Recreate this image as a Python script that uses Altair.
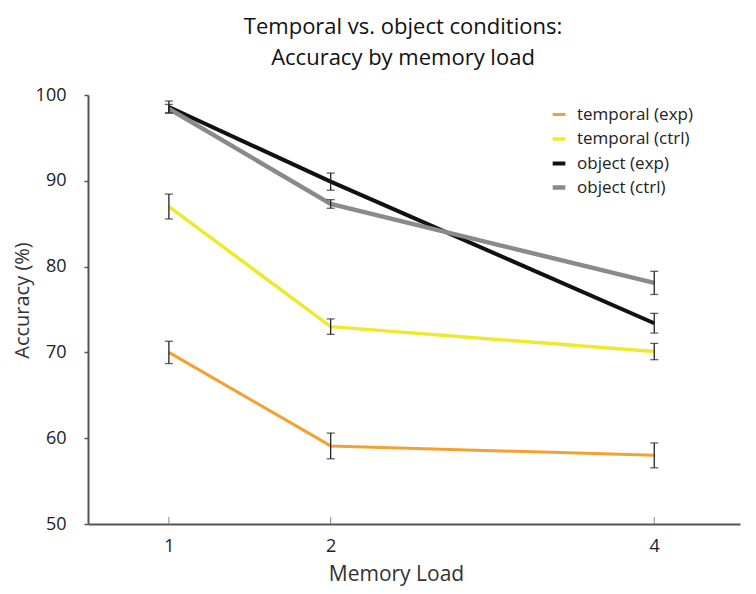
import altair as alt
import pandas as pd

loads = [1, 2, 4]
series_names = ["temporal (exp)", "temporal (ctrl)", "object (exp)", "object (ctrl)"]
temporal_exp = [70.0, 59.1, 58.0]
temporal_exp_err = [1.3, 1.5, 1.45]
temporal_ctrl = [87.0, 73.0, 70.1]
temporal_ctrl_err = [1.45, 0.9, 0.95]
object_exp = [98.6, 89.9, 73.4]
object_exp_err = [0.7, 1.0, 1.15]
object_ctrl = [98.4, 87.3, 78.1]
object_ctrl_err = [0.5, 0.5, 1.35]
colors = ["#F5A131", "#EDE92B", "#111111", "#8A8A8A"]
widths = [3, 4.5, 4, 3.5]

rows = []
for name, vals, errs in zip(series_names,
                            [temporal_exp, temporal_ctrl, object_exp, object_ctrl],
                            [temporal_exp_err, temporal_ctrl_err, object_exp_err, object_ctrl_err]):
    for l, v, e in zip(loads, vals, errs):
        rows.append({"series": name, "load": l, "acc": v, "lo": v - e, "hi": v + e})
df = pd.DataFrame(rows)

FONT = "Open Sans"
xax = alt.Axis(values=loads, title="Memory Load", ticks=False, grid=False,
               labelFontSize=18, labelFont=FONT, labelColor="#222", labelPadding=13,
               titleFontSize=21, titleFont=FONT, titleFontWeight="normal", titleColor="#333",
               titlePadding=8, titleX=308, domainColor="#555", domainWidth=2, format="d")
yax = alt.Axis(values=[50, 60, 70, 80, 90, 100], title="Accuracy (%)", grid=False,
               tickSize=4, tickColor="#555", tickWidth=1.5,
               labelFontSize=18, labelFont=FONT, labelColor="#222", labelPadding=18,
               titleFontSize=20, titleFont=FONT, titleFontWeight="normal", titleColor="#333",
               titleX=-56, titleY=205, domainColor="#555", domainWidth=2)
xs = alt.Scale(domain=[0.5, 4.53], nice=False, zero=False)
ys = alt.Scale(domain=[50, 100], nice=False, zero=False)

base = alt.Chart(df)

lines = base.mark_line().encode(
    x=alt.X("load:Q", scale=xs, axis=xax),
    y=alt.Y("acc:Q", scale=ys, axis=yax),
    color=alt.Color("series:N", scale=alt.Scale(domain=series_names, range=colors),
                    legend=alt.Legend(title=None, orient="none", legendX=462, legendY=11,
                                      symbolType="stroke", symbolStrokeWidth=4, symbolSize=160,
                                      labelFontSize=17, labelFont=FONT, labelColor="#222",
                                      labelOffset=9, rowPadding=6.5)),
    strokeWidth=alt.StrokeWidth("series:N", scale=alt.Scale(domain=series_names, range=widths), legend=None),
)

err_rule = base.mark_rule(color="#222", strokeWidth=1.3).encode(
    x=alt.X("load:Q", scale=xs, axis=xax),
    y=alt.Y("lo:Q", scale=ys, axis=yax),
    y2="hi:Q",
)
caps = base.transform_fold(["lo", "hi"], as_=["which", "val"]).mark_tick(
    color="#222", orient="horizontal", size=8, thickness=1.3
).encode(
    x=alt.X("load:Q", scale=xs, axis=xax),
    y=alt.Y("val:Q", scale=ys, axis=yax),
)

tick_df = pd.DataFrame({"load": loads})
xticks = alt.Chart(tick_df).mark_rule(color="#888", strokeWidth=1).encode(
    x=alt.X("load:Q", scale=xs, axis=xax),
    y=alt.value(422),
    y2=alt.value(429),
)

chart = alt.layer(xticks, lines, err_rule, caps).properties(
    width=652, height=429,
    title=alt.Title(["Temporal vs. object conditions:", "Accuracy by memory load"],
                    fontSize=22, font=FONT, fontWeight="normal", color="#111",
                    anchor="middle", offset=16, lineHeight=31, dx=-11),
    padding={"left": 80, "top": 87, "right": 8, "bottom": 68},
    autosize=alt.AutoSizeParams(type="none"),
).configure_view(stroke=None)

chart.save("out.html", embed_options={"renderer": "svg", "actions": False})
